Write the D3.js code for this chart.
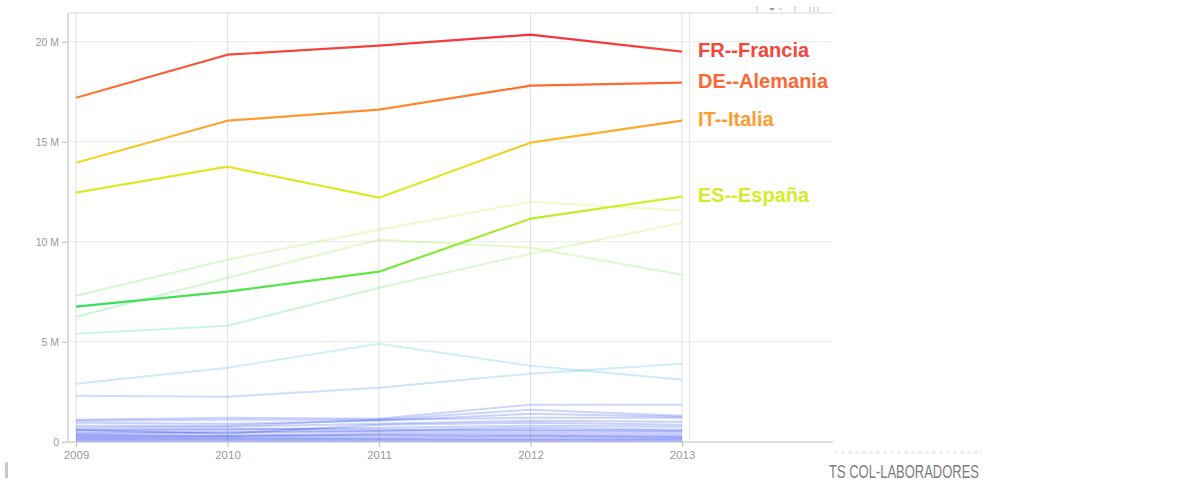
<!DOCTYPE html>
<html>
<head>
<meta charset="utf-8">
<script src="https://cdn.jsdelivr.net/npm/d3@7"></script>
<style>
  body { margin: 0; background: #fff; }
  svg { display: block; font-family: "Liberation Sans", Arial, sans-serif; }
</style>
</head>
<body>
<div id="chart"></div>
<script>
// years on the x axis
const years = [2009, 2010, 2011, 2012, 2013];

// highlighted countries (values in millions)
const labels = ["FR--Francia", "DE--Alemania", "IT--Italia", "ES--España"];
const fr = [17.2, 19.35, 19.8, 20.35, 19.5];
const de = [13.95, 16.05, 16.6, 17.8, 17.95];
const it = [12.45, 13.75, 12.2, 14.95, 16.05];
const es = [6.75, 7.5, 8.5, 11.15, 12.25];

// remaining countries, drawn faint
const others = [
  [7.3, 9.1, 10.6, 12.0, 11.55],
  [6.25, 8.2, 10.1, 9.7, 8.35],
  [5.4, 5.8, 7.7, 9.4, 10.95],
  [2.9, 3.7, 4.9, 3.8, 3.1],
  [2.3, 2.25, 2.7, 3.4, 3.9],
  [1.1, 1.2, 1.15, 1.85, 1.85],
  [1.05, 1.1, 1.1, 1.6, 1.3],
  [0.95, 0.9, 1.05, 1.4, 1.25],
  [0.8, 0.8, 1.1, 1.2, 1.2],
  [0.7, 0.75, 0.9, 1.05, 1.0],
  [0.6, 0.4, 0.85, 0.95, 0.85],
  [0.6, 0.65, 0.6, 0.6, 0.55],
  [0.55, 0.6, 0.7, 0.8, 0.75],
  [0.45, 0.5, 0.55, 0.7, 0.6],
  [0.4, 0.45, 0.5, 0.55, 0.5],
  [0.35, 0.3, 0.4, 0.45, 0.4],
  [0.3, 0.3, 0.35, 0.35, 0.3],
  [0.25, 0.25, 0.3, 0.3, 0.25],
  [0.2, 0.2, 0.2, 0.25, 0.2],
  [0.15, 0.15, 0.15, 0.15, 0.15],
  [0.1, 0.1, 0.1, 0.1, 0.1],
  [0.05, 0.05, 0.05, 0.05, 0.05]
];

// y ticks
const yTicks = [0, 5, 10, 15, 20];
const yTickLabels = ["0", "5 M", "10 M", "15 M", "20 M"];

const width = 1192, height = 482;
const svg = d3.select("#chart").append("svg")
  .attr("width", width)
  .attr("height", height);

const x = d3.scalePoint().domain(years).range([76, 682]);
const y = d3.scaleLinear().domain([0, 20]).range([441.7, 41.7]);

// colour by value
const color = d3.scaleLinear()
  .domain([0, 2, 3.5, 5, 6.5, 8.5, 12, 14, 16, 18, 20.5])
  .range(["#1f33ee", "#3f6ff2", "#48b0f0", "#3cd6d8", "#2fdc62", "#6ae83a",
          "#d2ef28", "#ecdf26", "#ff9f2e", "#ff6632", "#ee3040"]);

const defs = svg.append("defs");
const grad = defs.append("linearGradient")
  .attr("id", "valgrad")
  .attr("gradientUnits", "userSpaceOnUse")
  .attr("x1", 0).attr("x2", 0)
  .attr("y1", y(0)).attr("y2", y(20.5));
const gradStops = d3.range(0, 20.51, 0.5);
grad.selectAll("stop").data(gradStops).join("stop")
  .attr("offset", d => d / 20.5)
  .attr("stop-color", d => color(d));

// grid
svg.append("g").selectAll("line").data(yTicks).join("line")
  .attr("x1", 68).attr("x2", 832)
  .attr("y1", d => y(d)).attr("y2", d => y(d))
  .attr("stroke", "#eeeeee").attr("stroke-width", 1.2);

svg.append("g").selectAll("line").data(years).join("line")
  .attr("x1", d => x(d)).attr("x2", d => x(d))
  .attr("y1", 13).attr("y2", 442)
  .attr("stroke", "#e4e4e4").attr("stroke-width", 1.2);

// inner right border and frame
svg.append("line").attr("x1", 689.5).attr("x2", 689.5).attr("y1", 13).attr("y2", 442)
  .attr("stroke", "#e8e8e8").attr("stroke-width", 1.2);
svg.append("line").attr("x1", 68).attr("x2", 833).attr("y1", 13).attr("y2", 13)
  .attr("stroke", "#e3e3e3").attr("stroke-width", 1.5);

// top-right controls
const ctl = svg.append("g").attr("stroke", "#bbb").attr("stroke-width", 1);
ctl.append("line").attr("x1", 757).attr("x2", 757).attr("y1", 6).attr("y2", 12);
ctl.append("path").attr("d", "M769,8 L775,8 L772,11 Z").attr("fill", "#999").attr("stroke", "none");
ctl.append("line").attr("x1", 779).attr("x2", 782).attr("y1", 9).attr("y2", 9);
ctl.append("line").attr("x1", 795).attr("x2", 795).attr("y1", 6).attr("y2", 12);
[810, 814, 818].forEach(px => ctl.append("line").attr("x1", px).attr("x2", px).attr("y1", 7).attr("y2", 12));

// axes
const yAxis = g => g
  .attr("transform", "translate(68,0)")
  .call(d3.axisLeft(y).tickValues(yTicks).tickSize(6)
    .tickFormat((d, i) => yTickLabels[i]))
  .call(g => g.select(".domain").attr("stroke", "#dcdcdc").attr("stroke-width", 2)
    .attr("d", "M0,13V442"))
  .call(g => g.selectAll(".tick line").attr("stroke", "#bbb"))
  .call(g => g.selectAll(".tick text").attr("fill", "#999").attr("font-size", 10.5)
    .attr("x", -9).attr("font-family", "Liberation Sans, Arial, sans-serif"));

const xAxis = g => g
  .attr("transform", "translate(0,442)")
  .call(d3.axisBottom(x).tickSize(5).tickFormat(d3.format("d")))
  .call(g => g.select(".domain").attr("stroke", "#d6d6d6").attr("stroke-width", 1.5)
    .attr("d", "M68,0H833"))
  .call(g => g.selectAll(".tick line").attr("stroke", "#bbb"))
  .call(g => g.selectAll(".tick text").attr("fill", "#999").attr("font-size", 11.5)
    .attr("y", 9).attr("font-family", "Liberation Sans, Arial, sans-serif"));

svg.append("g").call(yAxis);
svg.append("g").call(xAxis);

// lines
const line = d3.line()
  .x((d, i) => x(years[i]))
  .y(d => y(d));

svg.append("g").selectAll("path").data(others).join("path")
  .attr("d", line)
  .attr("fill", "none")
  .attr("stroke", "url(#valgrad)")
  .attr("stroke-width", 2)
  .attr("stroke-opacity", 0.26);

const main = [fr, de, it, es];
svg.append("g").selectAll("path").data(main.slice().reverse()).join("path")
  .attr("d", line)
  .attr("fill", "none")
  .attr("stroke", "url(#valgrad)")
  .attr("stroke-width", 2.2)
  .attr("stroke-linejoin", "round");

// end labels
svg.append("g").selectAll("text").data(main).join("text")
  .attr("x", x(2013) + 16)
  .attr("y", d => y(d[d.length - 1]))
  .attr("dy", "0.25em")
  .attr("font-size", 20)
  .attr("font-weight", "bold")
  .attr("fill", d => color(d[d.length - 1]))
  .text((d, i) => labels[i]);

// page remnants
svg.append("rect").attr("x", 5).attr("y", 462).attr("width", 3).attr("height", 16).attr("fill", "#c8c8c8");
svg.append("line").attr("x1", 834).attr("x2", 982).attr("y1", 452.5).attr("y2", 452.5)
  .attr("stroke", "#f0f0f0").attr("stroke-width", 3).attr("stroke-dasharray", "4,3");
svg.append("text")
  .attr("x", 829).attr("y", 478)
  .attr("font-family", "Liberation Sans Narrow, Arial Narrow, sans-serif")
  .attr("font-size", 18)
  .attr("fill", "#7c7c7c")
  .attr("textLength", 150)
  .attr("lengthAdjust", "spacingAndGlyphs")
  .text("TS COL-LABORADORES");
</script>
</body>
</html>
